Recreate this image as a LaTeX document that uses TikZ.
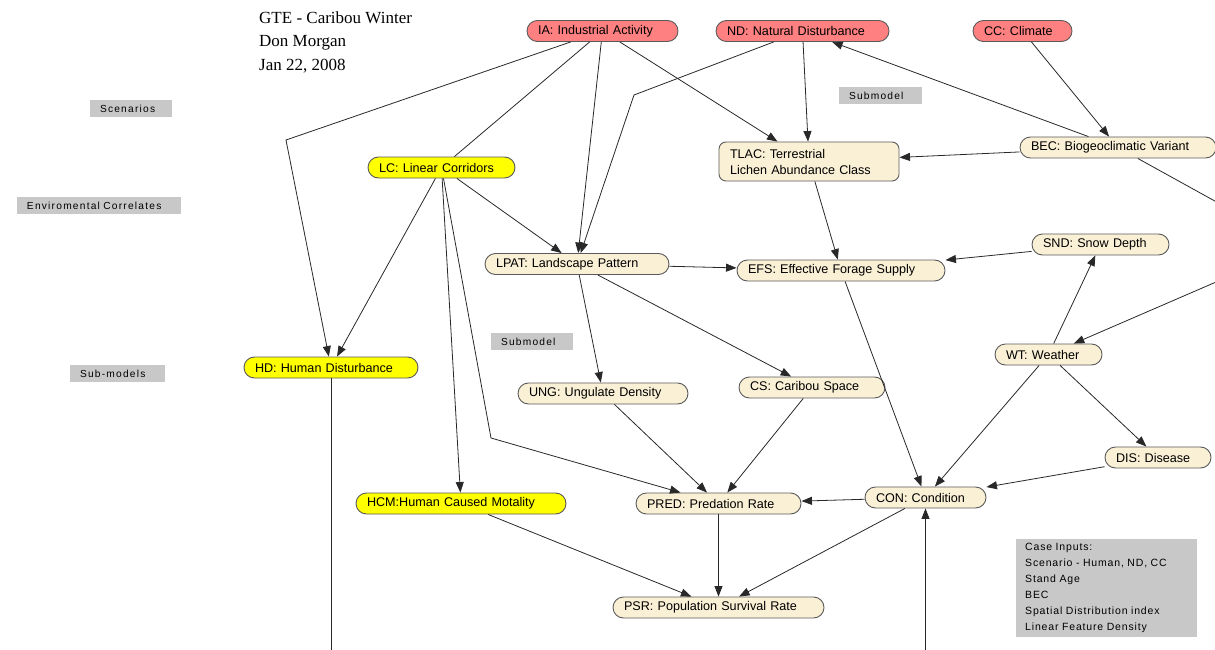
\documentclass[tikz,border=0pt]{standalone}
\usepackage{fontspec}
\setmainfont{Liberation Sans}
\newfontfamily\titlefont{Liberation Serif}
\newfontfamily\spacedfont[LetterSpace=12]{Liberation Sans}
\newfontfamily\casefont[LetterSpace=8]{Liberation Sans}
\usetikzlibrary{arrows.meta,calc}
\definecolor{nred}{RGB}{255,128,128}
\definecolor{nyellow}{RGB}{255,255,0}
\definecolor{nbeige}{RGB}{250,240,214}
\definecolor{nborder}{RGB}{90,90,90}
\definecolor{lgray}{RGB}{200,200,200}
\definecolor{edgecol}{RGB}{40,40,40}
\begin{document}
\begin{tikzpicture}[x=1pt,y=-1pt,
  base/.style={draw=nborder, line width=0.9pt, rounded corners=10.5pt, minimum height=21pt,
    inner xsep=11pt, inner ysep=0pt, align=left, font=\fontsize{12.6}{15}\selectfont},
  rednode/.style={base, fill=nred},
  yelnode/.style={base, fill=nyellow},
  beinode/.style={base, fill=nbeige},
  lbl/.style={fill=lgray, minimum height=17pt, inner xsep=10pt, inner ysep=0pt, align=left,
    font=\spacedfont\fontsize{10.2}{12}\selectfont},
  titletext/.style={anchor=base west, inner sep=0pt, font=\titlefont\fontsize{17}{20}\selectfont},
  arr/.style={draw=edgecol, line width=0.8pt, -{Triangle[length=10.5pt,width=8pt]}},
  ln/.style={draw=edgecol, line width=0.8pt},
]
\useasboundingbox (0,0) rectangle (1215,650);
\clip (0,0) rectangle (1215,650);

% title
\node[titletext] (t1) at (259,24) {GTE - Caribou Winter};
\node[titletext] (t2) at (259,47) {Don Morgan};
\node[titletext] (t3) at (259,71) {Jan 22, 2008};

% gray labels
\node[lbl, text width=62pt] (l1) at (131,108.5) {Scenarios};
\node[lbl, text width=144pt] (l2) at (99,205.5) {Enviromental Correlates};
\node[lbl, text width=63pt] (l3) at (880.5,95.5) {Submodel};
\node[lbl, text width=62pt] (l4) at (532,341.5) {Submodel};
\node[lbl, text width=75pt] (l5) at (117.5,373.5) {Sub-models};

\node[fill=lgray, anchor=north west, minimum width=181pt, minimum height=98pt, text width=163pt,
  inner xsep=9pt, inner ysep=0pt, align=left, font=\casefont\fontsize{10.5}{16}\selectfont]
  (case) at (1016,539) {Case Inputs:\\Scenario - Human, ND, CC\\Stand Age\\BEC\\Spatial Distribution index\\Linear Feature Density};

% nodes
\node[rednode, text width=129pt] (IA) at (602.5,31) {IA: Industrial Activity};
\node[rednode, text width=151pt] (ND) at (802.5,31) {ND: Natural Disturbance};
\node[rednode, text width=77pt] (CC) at (1022.5,31) {CC: Climate};
\node[beinode, text width=158pt, minimum height=39pt, rounded corners=7pt,
  font=\fontsize{12.6}{16}\selectfont] (TLAC) at (809,161.5) {TLAC: Terrestrial\\Lichen Abundance Class};
\node[beinode, text width=174pt] (BEC) at (1118,147.5) {BEC: Biogeoclimatic Variant};
\node[yelnode, text width=125pt] (LC) at (441.5,167.5) {LC: Linear Corridors};
\node[beinode, text width=162pt] (LPAT) at (577,264) {LPAT: Landscape Pattern};
\node[beinode, text width=186pt] (EFS) at (841,270.5) {EFS: Effective Forage Supply};
\node[beinode, text width=115pt] (SND) at (1100.5,244.5) {SND: Snow Depth};
\node[beinode, text width=85pt] (WT) at (1048.5,354.5) {WT: Weather};
\node[yelnode, text width=152pt] (HD) at (331,367.5) {HD: Human Disturbance};
\node[beinode, text width=148pt] (UNG) at (603,393.5) {UNG: Ungulate Density};
\node[beinode, text width=124pt] (CS) at (812,387.5) {CS: Caribou Space};
\node[beinode, text width=84pt] (DIS) at (1158,457.5) {DIS: Disease};
\node[beinode, text width=99pt] (CON) at (925.5,497.5) {CON: Condition};
\node[beinode, text width=143pt] (PRED) at (718.5,503.5) {PRED: Predation Rate};
\node[yelnode, text width=188pt] (HCM) at (461,503.5) {HCM:Human Caused Motality};
\node[beinode, text width=189pt] (PSR) at (718.5,607.5) {PSR: Population Survival Rate};

% helper coordinates
\coordinate (b1) at (286,140);
\coordinate (b2) at (634,95);
\coordinate (b3) at (491,438);
\coordinate (w1) at (1260,226);
\coordinate (w2) at (1260,263);
\coordinate (hdend) at (331,665);
\coordinate (conin) at (925.5,665);

% edges
\draw[arr] (IA) -- (b1) -- (HD);
\draw[ln] (IA) -- (LC);
\draw[arr] (IA) -- (LPAT);
\draw[arr] (IA) -- (TLAC);
\draw[arr] (ND) -- (b2) -- (LPAT);
\draw[arr] (ND) -- (TLAC);
\draw[arr] (BEC) -- (ND);
\draw[arr] (CC) -- (BEC);
\draw[arr] (BEC) -- (TLAC);
\draw[arr] (BEC) -- (w1) -- (w2) -- (WT);
\draw[arr] (LC) -- (HD);
\draw[arr] (LC) -- (HCM);
\draw[arr] (LC) -- (b3) -- (PRED);
\draw[arr] (LC) -- (LPAT);
\draw[arr] (TLAC) -- (EFS);
\draw[arr] (LPAT) -- (EFS);
\draw[arr] (SND) -- (EFS);
\draw[arr] (LPAT) -- (UNG);
\draw[arr] (LPAT) -- (CS);
\draw[arr] (EFS) -- (CON);
\draw[arr] (WT) -- (SND);
\draw[arr] (WT) -- (CON);
\draw[arr] (WT) -- (DIS);
\draw[arr] (DIS) -- (CON);
\draw[arr] (UNG) -- (PRED);
\draw[arr] (CS) -- (PRED);
\draw[arr] (CON) -- (PRED);
\draw[arr] (PRED) -- (PSR);
\draw[arr] (CON) -- (PSR);
\draw[arr] (HCM) -- (PSR);
\draw[ln] (HD) -- (hdend);
\draw[arr] (conin) -- (CON);
\end{tikzpicture}
\end{document}
